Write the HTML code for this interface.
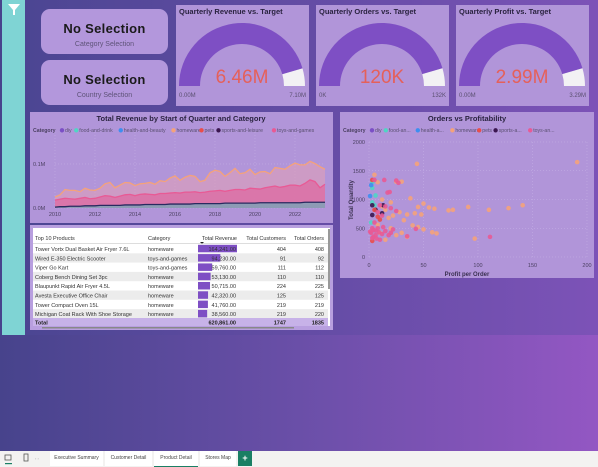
<!DOCTYPE html>
<html><head><meta charset="utf-8">
<style>
html,body{margin:0;padding:0;width:598px;height:467px;overflow:hidden;font-family:"Liberation Sans",sans-serif;}
#root{position:relative;width:598px;height:467px;background:linear-gradient(90deg,#47438c 0%,#6a4fa8 50%,#9357c3 100%);}
.panel{position:absolute;background:#b195d9;}
.card{position:absolute;background:#b397dc;border-radius:9px;text-align:center;}
.card .t{font-size:13px;color:#1a1a1a;margin-top:12px;letter-spacing:.3px;font-weight:bold}
.card .s{font-size:7px;color:#5e5378;margin-top:5px}
#tabs{position:absolute;left:0;top:451px;width:598px;height:16px;background:#f3f2f1;font-size:5px;color:#444;}
.tab{position:absolute;top:0;height:15px;line-height:15px;background:#fff;text-align:center;}
</style></head><body>
<div id="root">
<div style="position:absolute;left:25px;top:0;width:573px;height:335px;background:linear-gradient(90deg,#4c4693,#7a52b6);opacity:.9"></div>
<div style="position:absolute;left:2px;top:0;width:23px;height:335px;background:#7fd4d4">
<svg width="23" height="20"><polygon points="6,4 18,4 13,10 13,15 11,15 11,10" fill="#fff"/></svg></div>

<div class="card" style="left:41px;top:9px;width:127px;height:45px"><div class="t">No Selection</div><div class="s">Category Selection</div></div>
<div class="card" style="left:41px;top:60px;width:127px;height:45px"><div class="t">No Selection</div><div class="s">Country Selection</div></div>

<svg id="gauges" style="position:absolute;left:0;top:0" width="598" height="110"></svg>

<div class="panel" style="left:30px;top:112px;width:303px;height:111px">
<svg id="line" width="303" height="111" style="position:absolute;left:0;top:0"></svg></div>

<div class="panel" style="left:30px;top:225px;width:303px;height:105px;background:#b89fdf">
<div style="position:absolute;left:3px;top:3px;width:297px;height:98px;background:#fff"></div>
<svg id="table" width="303" height="105" style="position:absolute;left:0;top:0"></svg></div>

<div class="panel" style="left:340px;top:112px;width:254px;height:166px">
<svg id="scatter" width="254" height="166" style="position:absolute;left:0;top:0"></svg></div>

<div id="tabs">
<svg width="40" height="16" style="position:absolute;left:2px;top:0"><rect x="3" y="4" width="6" height="5" fill="none" stroke="#555" stroke-width=".8"/><rect x="3" y="12" width="7" height="1.2" fill="#1a7f64"/><rect x="22" y="3" width="4" height="7" fill="none" stroke="#555" stroke-width=".8"/><text x="33" y="9" font-size="4" fill="#aaa">‹ ›</text></svg>
<div class="tab" style="left:50px;width:53px">Executive Summary</div>
<div class="tab" style="left:105px;width:47px">Customer Detail</div>
<div class="tab" style="left:154px;width:44px;border-bottom:1px solid #1a7f64">Product Detail</div>
<div class="tab" style="left:200px;width:36px">Stores Map</div>
<div class="tab" style="left:238px;width:14px;background:#1a7f64;color:#fff;font-size:9px;font-weight:bold">+</div>
</div>
</div>
<script>
const NS="http://www.w3.org/2000/svg";
function mk(p,t,a){const e=document.createElementNS(NS,t);for(const k in a)e.setAttribute(k,a[k]);p.appendChild(e);return e;}
function tx(p,x,y,s,size,fill,anchor,weight){const e=mk(p,'text',{x:x,y:y,'font-size':size,fill:fill,'text-anchor':anchor||'start','font-weight':weight||'normal','font-family':'Liberation Sans, sans-serif'});e.textContent=s;return e;}

// ---- gauges data ----
const gaugeTitles=["Quarterly Revenue vs. Target","Quarterly Orders vs. Target","Quarterly Profit vs. Target"];
const gaugeValues=[6.46,120,2.99];
const gaugeTargets=[7.10,132,3.29];
const gaugeValueLabels=["6.46M","120K","2.99M"];
const gaugeMinLabels=["0.00M","0K","0.00M"];
const gaugeMaxLabels=["7.10M","132K","3.29M"];
const G=document.getElementById('gauges');
const gx=[176,316,456];
function arcPath(cx,cy,R,r,a0,a1){const p=(rad,a)=>[cx-rad*Math.cos(a),cy-rad*Math.sin(a)];
 const [x1,y1]=p(R,a0),[x2,y2]=p(R,a1),[x3,y3]=p(r,a1),[x4,y4]=p(r,a0);
 return `M${x1},${y1}A${R},${R} 0 0 1 ${x2},${y2}L${x3},${y3}A${r},${r} 0 0 0 ${x4},${y4}Z`;}
gaugeTitles.forEach((t,i)=>{
 const x=gx[i];
 const bg=mk(G,'rect',{x:x,y:5,width:133,height:101,fill:'#b195d9'});
 
 
 tx(G,x+3,14,t,7.5,'#2a2340','start','bold');
 const cx=x+66,cy=86,R=63,r=42,frac=gaugeValues[i]/gaugeTargets[i];
 const a=mk(G,'path',{d:arcPath(cx,cy,R,r,0,Math.PI*frac),fill:'#7e4fc4'});
 
 
 mk(G,'path',{d:arcPath(cx,cy,R,r,Math.PI*frac,Math.PI),fill:'#f2f1f4'});
 tx(G,cx,83,gaugeValueLabels[i],19,'#e5605a','middle');
 tx(G,x+3,97,gaugeMinLabels[i],6,'#5a4f70');
 tx(G,x+130,97,gaugeMaxLabels[i],6,'#5a4f70','end');
});

// ---- line chart data ----
const years=["2010","2012","2014","2016","2018","2020","2022"];
const homeware=[0.025,0.03,0.042,0.04,0.04,0.037,0.045,0.041,0.040,0.045,0.055,0.058,0.046,0.052,0.058,0.057,0.051,0.055,0.056,0.058,0.054,0.062,0.060,0.068,0.073,0.063,0.070,0.074,0.072,0.060,0.063,0.080,0.086,0.083,0.072,0.080,0.090,0.078,0.080,0.088,0.076,0.082,0.083,0.078,0.092,0.090,0.088,0.096,0.102,0.098,0.098,0.106,0.101,0.094,0.088];
const toys=[0.018,0.020,0.022,0.021,0.020,0.022,0.024,0.021,0.022,0.025,0.028,0.027,0.024,0.027,0.030,0.031,0.028,0.031,0.032,0.031,0.030,0.033,0.033,0.034,0.035,0.034,0.036,0.036,0.037,0.035,0.036,0.038,0.039,0.040,0.038,0.040,0.042,0.042,0.041,0.045,0.044,0.043,0.046,0.048,0.050,0.047,0.049,0.052,0.052,0.050,0.056,0.064,0.060,0.046,0.054];
const smallCats=[0.002,0.003,0.003,0.004,0.004,0.004,0.005,0.005,0.005,0.006,0.006,0.006,0.006,0.006,0.007,0.007,0.007,0.007,0.008,0.008,0.008,0.008,0.008,0.009,0.009,0.009,0.009,0.009,0.010,0.010,0.010,0.010,0.010,0.010,0.011,0.011,0.011,0.011,0.011,0.011,0.011,0.012,0.012,0.012,0.012,0.012,0.012,0.012,0.012,0.012,0.013,0.013,0.013,0.013,0.013];
const yTicks=[0,0.1];
const legendCats=["diy","food-and-drink","health-and-beauty","homeware","pets","sports-and-leisure","toys-and-games"];
const legendColors=["#7b4fc6","#4fd6c4","#3d8ef0","#f5a27a","#ea4d4a","#3b1650","#e85a95"];
const L=document.getElementById('line');
tx(L,151,9,"Total Revenue by Start of Quarter and Category",7.5,'#2a2340','middle','bold');
tx(L,3,20,"Category",5.2,'#4a3f60','start','bold');
let lx=32;
legendCats.forEach((c,i)=>{mk(L,'circle',{cx:lx,cy:18.3,r:2.2,fill:legendColors[i]});tx(L,lx+3,20,c,5.2,'#5a4f70');lx+=6+c.length*2.75;});
const X0=25,X1=295,Y0=96,YS=440;
const xq=i=>X0+i*(X1-X0)/(homeware.length-1);
const yv=v=>Y0-v*YS;
yTicks.forEach(t=>{tx(L,3,yv(t)+2,t.toFixed(1)+"M",5.5,'#4a3f60');mk(L,'line',{x1:X0,x2:X1,y1:yv(t),y2:yv(t),stroke:'#c8b4e6','stroke-dasharray':'1,2','stroke-width':.5});});
years.forEach((y,i)=>{const x=X0+i*8*(X1-X0)/(homeware.length-1);tx(L,x,104,y,5.5,'#4a3f60','middle');mk(L,'line',{x1:x,x2:x,y1:20,y2:Y0,stroke:'#c8b4e6','stroke-dasharray':'1,2','stroke-width':.5});});
function area(data,fill,stroke,name,op){
 let d=`M${xq(0)},${yv(0)}`;data.forEach((v,i)=>d+=`L${xq(i)},${yv(v)}`);d+=`L${xq(data.length-1)},${yv(0)}Z`;
 const a=mk(L,'path',{d:d,fill:fill,opacity:op});
 
 
 let l='';data.forEach((v,i)=>l+=(i?'L':'M')+xq(i)+','+yv(v));
 const p=mk(L,'path',{d:l,fill:'none',stroke:stroke,'stroke-width':1.3});
 
 
}
area(homeware,'#e0a0b8','#f5a27a','homeware',.6);
area(toys,'#de6aa0','#e85a95','toys-and-games',.75);
area(smallCats,'#3fbfbf','#2a2a60','other-categories',.5);

// ---- table data ----
const products=["Tower Vortx Dual Basket Air Fryer 7.6L","Wired E-350 Electric Scooter","Viper Go Kart","Coberg Bench Dining Set 3pc","Blaupunkt Rapid Air Fryer 4.5L","Avesta Executive Office Chair","Tower Compact Oven 15L","Michigan Coat Rack With Shoe Storage"];
const categories=["homeware","toys-and-games","toys-and-games","homeware","homeware","homeware","homeware","homeware"];
const revenue=[164241,94230,59760,53130,50715,42320,41760,38560];
const customers=[404,91,111,110,224,125,219,219];
const orders=[408,92,112,110,225,125,219,220];
const totals=["620,861.00","1747","1835"];
const T=document.getElementById('table');
const hy=15;
[["Top 10 Products",5,'start'],["Category",118,'start'],["Total Revenue",207,'end'],["Total Customers",256,'end'],["Total Orders",294,'end']].forEach(h=>tx(T,h[1],hy,h[0],5.5,'#333',h[2]));
mk(T,'polygon',{points:'170,17 174,17 172,19',fill:'#222'});
mk(T,'line',{x1:3,x2:300,y1:18.5,y2:18.5,stroke:'#bbb','stroke-width':.5});
const maxRev=Math.max(...revenue);
products.forEach((p,i)=>{
 const y=19+i*9.3;
 if(i%2==1) mk(T,'rect',{x:3,y:y,width:295,height:9.3,fill:'#ececec'});
 const b=mk(T,'rect',{x:168,y:y+.8,width:39*revenue[i]/maxRev,height:7.5,fill:'#7e4fc4'});
 
 
 tx(T,5,y+7,p,5.5,'#333');tx(T,118,y+7,categories[i],5.5,'#333');
 tx(T,206,y+7,revenue[i].toLocaleString('en-US',{minimumFractionDigits:2}),5.5,'#333','end');
 tx(T,256,y+7,customers[i],5.5,'#333','end');tx(T,294,y+7,orders[i],5.5,'#333','end');
});
mk(T,'rect',{x:3,y:93,width:295,height:8,fill:'#c7b2e8'});
tx(T,5,99.5,"Total",5.5,'#222','start','bold');
tx(T,206,99.5,totals[0],5.5,'#222','end','bold');
tx(T,256,99.5,totals[1],5.5,'#222','end','bold');tx(T,294,99.5,totals[2],5.5,'#222','end','bold');
mk(T,'rect',{x:298,y:4,width:2,height:60,fill:'#999'});
mk(T,'rect',{x:12,y:102,width:252,height:1.5,fill:'#888'});

// ---- scatter data (profit per order, total quantity) ----
const homewarePts=[[44,1620],[191,1650],[5,1430],[8,1300],[25,1310],[30,1310],[12,1000],[20,950],[38,1020],[50,930],[45,870],[55,860],[60,840],[73,810],[77,820],[91,870],[110,820],[128,850],[141,900],[35,740],[42,760],[48,740],[28,780],[32,640],[18,680],[22,720],[40,550],[45,520],[50,480],[58,430],[62,410],[97,320],[25,380],[30,420],[35,350],[15,300],[10,420],[20,500],[8,560],[12,880],[15,820]];
const toysPts=[[5,1340],[14,1340],[25,1330],[27,1290],[17,1120],[19,1130],[10,900],[15,880],[20,850],[25,800],[8,780],[12,720],[5,600],[3,500],[6,460],[9,430],[12,400],[15,450],[18,380],[4,350],[7,320],[10,300],[20,420],[22,480],[13,520],[111,350],[43,490],[35,360],[2,420],[4,470],[6,380],[8,500],[1,440],[3,330]];
const foodPts=[[3,1300],[3,1200],[6,1070],[3,950],[5,900],[2,600]];
const healthPts=[[2,1250],[1,1060]];
const sportsPts=[[3,900],[3,730],[12,760],[13,900],[6,820]];
const petsPts=[[3,1340],[5,820],[8,700],[3,280],[10,650]];
const xTicks=[0,50,100,150,200];
const qTicks=[0,500,1000,1500,2000];
const S=document.getElementById('scatter');
tx(S,127,9,"Orders vs Profitability",7.5,'#2a2340','middle','bold');
tx(S,3,20,"Category",5.2,'#4a3f60','start','bold');
const sLeg=["diy","food-an...","health-a...","homeware","pets","sports-a...","toys-an..."];
let sx=32;sLeg.forEach((c,i)=>{mk(S,'circle',{cx:sx,cy:18.3,r:2.2,fill:legendColors[i]});tx(S,sx+3,20,c,5.2,'#5a4f70');sx+=6+c.length*2.6;});
const px=v=>29+v*1.09, py=v=>145-v*0.0575;
qTicks.forEach(t=>{tx(S,25,py(t)+2,t,5.5,'#4a3f60','end');mk(S,'line',{x1:29,x2:247,y1:py(t),y2:py(t),stroke:'#c8b4e6','stroke-dasharray':'1,2','stroke-width':.5});});
xTicks.forEach(t=>{tx(S,px(t),155,t,5.5,'#4a3f60','middle');mk(S,'line',{x1:px(t),x2:px(t),y1:30,y2:145,stroke:'#c8b4e6','stroke-dasharray':'1,2','stroke-width':.5});});
tx(S,127,164,"Profit per Order",6,'#3a3050','middle','bold');
const yl=tx(S,13,88,"Total Quantity",6,'#3a3050','middle','bold');yl.setAttribute('transform','rotate(-90 13 88)');
function pts(arr,col,name){arr.forEach(p=>{const c=mk(S,'circle',{cx:px(p[0]),cy:py(p[1]),r:2.3,fill:col,opacity:.9});
 
 });}
pts(homewarePts,'#f5a27a','homeware');
pts(foodPts,'#4fd6c4','food-and-drink');
pts(healthPts,'#3d8ef0','health-and-beauty');
pts(sportsPts,'#3b1650','sports-and-leisure');
pts(petsPts,'#ea4d4a','pets');
pts(toysPts,'#e85a95','toys-and-games');
</script>
</body></html>
